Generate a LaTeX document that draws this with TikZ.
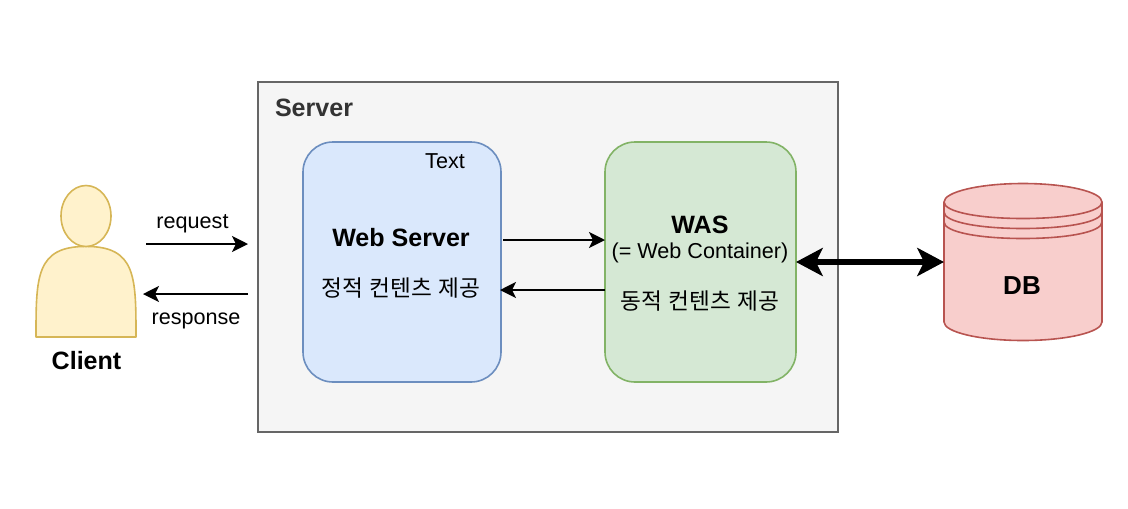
\documentclass[tikz,border=0pt]{standalone}
\usepackage{fontspec}
\setmainfont{Liberation Sans}
\newfontfamily\krfont[WordSpace=1.2]{Noto Sans CJK KR}
\usetikzlibrary{arrows.meta}
\definecolor{srvfill}{HTML}{F5F5F5}
\definecolor{srvline}{HTML}{666666}
\definecolor{srvtext}{HTML}{333333}
\definecolor{bluefill}{HTML}{DAE8FC}
\definecolor{blueline}{HTML}{6C8EBF}
\definecolor{greenfill}{HTML}{D5E8D4}
\definecolor{greenline}{HTML}{82B366}
\definecolor{redfill}{HTML}{F8CECC}
\definecolor{redline}{HTML}{B85450}
\definecolor{yelfill}{HTML}{FFF2CC}
\definecolor{yelline}{HTML}{D6B656}
\tikzset{
  px/.style={x=0.75pt,y=-0.75pt},
  lbl/.style={anchor=base,inner sep=0pt,outer sep=0pt,font=\fontsize{16.2pt}{19pt}\selectfont,text=black},
  boldlbl/.style={anchor=base,inner sep=0pt,outer sep=0pt,font=\fontsize{18.8pt}{22pt}\selectfont\bfseries,text=black},
  krlbl/.style={inner sep=0pt,outer sep=0pt,font=\fontsize{17pt}{20pt}\krfont,text=black},
  box/.style={draw,rounded corners=22.5pt,line width=1.2pt,outer sep=0pt,inner sep=0pt,minimum height=180pt},
  thin arrow/.style={-{Stealth[length=12pt,width=12pt,inset=3pt]},line width=1.5pt,black},
  fat arrow/.style={{Stealth[length=20pt,width=21pt,inset=5pt]}-{Stealth[length=20pt,width=21pt,inset=5pt]},line width=4.3pt,black},
  figline/.style={line width=1.2pt,line join=round}
}
\begin{document}
\begin{tikzpicture}[px]
\useasboundingbox (0,0) rectangle (1128,508);
% Server frame
\node[draw=srvline,fill=srvfill,line width=1.5pt,outer sep=0pt,inner sep=0pt,minimum width=435pt,minimum height=262.5pt] (server) at (548,257) {};
\node[anchor=base west,inner sep=0pt,outer sep=0pt,font=\fontsize{18.8pt}{22pt}\selectfont\bfseries,text=srvtext] (servertitle) at (275,116) {Server};
% Web server and WAS
\node[box,draw=blueline,fill=bluefill,minimum width=148.5pt] (web) at (402,262) {};
\node[box,draw=greenline,fill=greenfill,minimum width=143.25pt] (was) at (700.5,262) {};
\node[lbl] (txt) at (445,168) {Text};
\node[boldlbl] (webtitle) at (401,246) {Web Server};
\node[krlbl] (webdesc) at (401,288) {정적 컨텐츠 제공};
\node[boldlbl] (wastitle) at (700,233) {WAS};
\node[lbl] (wassub) at (700,258) {(= Web Container)};
\node[krlbl] (wasdesc) at (700,301) {동적 컨텐츠 제공};
% Person
\node[minimum width=75pt,minimum height=113pt,inner sep=0pt,outer sep=0pt] (client) at (86,261) {};
\draw[figline,draw=yelline,fill=yelfill] (36,337) .. controls (36,276.6) and (36,246.4) .. (86,246.4) .. controls (136,246.4) and (136,276.6) .. (136,337) -- cycle;
\draw[figline,draw=yelline,fill=yelfill] (86,216) ellipse [x radius=25,y radius=30.5];
\node[boldlbl] (clientlbl) at (86.5,369) {Client};
% Database
\node[minimum width=118.5pt,minimum height=117.5pt,inner sep=0pt,outer sep=0pt] (db) at (1023,262) {};
\draw[figline,draw=redline,fill=redfill] (944,202) -- (944,322) .. controls (944,332) and (979,340.5) .. (1023,340.5) .. controls (1067,340.5) and (1102,332) .. (1102,322) -- (1102,202) .. controls (1102,192) and (1067,183.5) .. (1023,183.5) .. controls (979,183.5) and (944,192) .. (944,202) -- cycle;
\draw[figline,draw=redline] (944,202) .. controls (944,212) and (979,218.5) .. (1023,218.5) .. controls (1067,218.5) and (1102,212) .. (1102,202);
\draw[figline,draw=redline] (944,212) .. controls (944,222) and (979,228.5) .. (1023,228.5) .. controls (1067,228.5) and (1102,222) .. (1102,212);
\draw[figline,draw=redline] (944,222) .. controls (944,232) and (979,238.5) .. (1023,238.5) .. controls (1067,238.5) and (1102,232) .. (1102,222);
\node[boldlbl,font=\fontsize{19.5pt}{22pt}\selectfont\bfseries] (dblbl) at (1022,294) {DB};
% Connectors
\coordinate (reqstart) at (146,244);
\coordinate (reqend) at (248,244);
\coordinate (resstart) at (248,294);
\coordinate (resend) at (143,294);
\coordinate (upper) at (503,240);
\coordinate (lower) at (500,290);
\draw[thin arrow] (reqstart) -- (reqend);
\draw[thin arrow] (resstart) -- (resend);
\node[lbl] (reqlbl) at (192.5,228) {request};
\node[lbl] (reslbl) at (196,324) {response};
\draw[thin arrow] (upper) -- (was.west |- upper);
\draw[thin arrow] (was.west |- lower) -- (lower);
\draw[fat arrow] (was.east) -- (db.west);
\end{tikzpicture}
\end{document}
